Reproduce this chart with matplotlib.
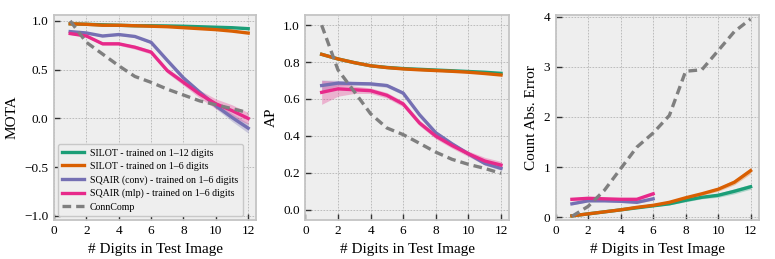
import numpy as np
import matplotlib.pyplot as plt

plt.rcParams['font.family'] = ['Liberation Serif', 'DejaVu Serif']
plt.rcParams['mathtext.fontset'] = 'stix'

x_all = np.arange(1, 13)
x_half = np.arange(1, 7)

labels = ['SILOT - trained on 1\u201312 digits',
          'SILOT - trained on 1\u20136 digits',
          'SQAIR (conv) - trained on 1\u20136 digits',
          'SQAIR (mlp) - trained on 1\u20136 digits',
          'ConnComp']
colors = ['#1b9e77', '#d95f02', '#7570b3', '#e7298a', '#7f7f7f']

# MOTA
mota_silot12 = [0.97, 0.965, 0.96, 0.955, 0.95, 0.95, 0.948, 0.945, 0.94, 0.935, 0.93, 0.92]
mota_silot6 = [0.97, 0.965, 0.955, 0.955, 0.95, 0.945, 0.94, 0.93, 0.92, 0.91, 0.895, 0.875]
mota_conv = [0.89, 0.876, 0.845, 0.86, 0.84, 0.78, 0.595, 0.415, 0.27, 0.13, 0.01, -0.10]
mota_mlp = [0.87, 0.845, 0.765, 0.765, 0.73, 0.68, 0.49, 0.37, 0.25, 0.15, 0.08, 0.0]
mota_cc = [1.0, 0.78, 0.66, 0.54, 0.43, 0.37, 0.30, 0.24, 0.18, 0.14, 0.10, 0.06]
mota_conv_sd = [0.01, 0.01, 0.01, 0.01, 0.01, 0.015, 0.02, 0.02, 0.02, 0.03, 0.04, 0.05]
mota_mlp_sd = [0.01, 0.01, 0.015, 0.015, 0.02, 0.02, 0.025, 0.03, 0.04, 0.05, 0.06, 0.06]

# AP
ap_silot12 = [0.842, 0.817, 0.797, 0.78, 0.771, 0.765, 0.761, 0.757, 0.753, 0.749, 0.745, 0.739]
ap_silot6 = [0.842, 0.817, 0.797, 0.78, 0.77, 0.763, 0.758, 0.754, 0.75, 0.745, 0.738, 0.73]
ap_conv = [0.673, 0.686, 0.684, 0.682, 0.673, 0.632, 0.515, 0.417, 0.357, 0.303, 0.251, 0.224]
ap_mlp = [0.636, 0.655, 0.65, 0.645, 0.62, 0.573, 0.47, 0.399, 0.348, 0.303, 0.264, 0.242]
ap_cc = [1.0, 0.758, 0.64, 0.52, 0.443, 0.407, 0.36, 0.312, 0.273, 0.246, 0.224, 0.197]
ap_conv_sd = [0.03, 0.015, 0.01, 0.01, 0.01, 0.01, 0.01, 0.01, 0.01, 0.01, 0.01, 0.01]
ap_mlp_sd = [0.065, 0.04, 0.02, 0.015, 0.015, 0.015, 0.015, 0.015, 0.015, 0.015, 0.02, 0.02]

# Count absolute error
cnt_silot12 = [0.03, 0.07, 0.11, 0.15, 0.19, 0.23, 0.27, 0.34, 0.40, 0.44, 0.52, 0.61]
cnt_silot6 = [0.03, 0.07, 0.11, 0.15, 0.20, 0.24, 0.30, 0.39, 0.47, 0.56, 0.70, 0.93]
cnt_conv = [0.27, 0.33, 0.33, 0.32, 0.30, 0.37]
cnt_mlp = [0.36, 0.38, 0.37, 0.36, 0.36, 0.47]
cnt_cc = [0.02, 0.22, 0.54, 0.97, 1.40, 1.68, 2.03, 2.91, 2.94, 3.32, 3.70, 3.95]
cnt_silot12_sd = [0.01, 0.01, 0.01, 0.01, 0.01, 0.015, 0.02, 0.03, 0.03, 0.04, 0.05, 0.05]
cnt_silot6_sd = [0.01, 0.01, 0.01, 0.01, 0.01, 0.015, 0.02, 0.02, 0.03, 0.04, 0.05, 0.06]
cnt_conv_sd = [0.02, 0.02, 0.02, 0.02, 0.02, 0.03]
cnt_mlp_sd = [0.03, 0.03, 0.02, 0.02, 0.02, 0.03]

TICK_FS = 9.5
LABEL_FS = 11
CC_DASH = (0, (2.6, 1.5))


def style_axis(ax):
    ax.set_facecolor('#eeeeee')
    ax.grid(True, color='#b4b4b4', linestyle=(0, (2, 1.6)), linewidth=0.6)
    ax.set_axisbelow(True)
    for s in ax.spines.values():
        s.set_color('#c4c4c4')
        s.set_linewidth(1.3)
    ax.tick_params(direction='in', length=4, width=1, color='#333333',
                   labelsize=TICK_FS, pad=4)
    ax.set_xticks([0, 2, 4, 6, 8, 10, 12])
    ax.set_xlim(0, 12.5)
    ax.set_xlabel('# Digits in Test Image', fontsize=LABEL_FS)


def draw(ax, x, y, sd, c, lab, ls='-'):
    y = np.array(y)
    ax.plot(x, y, color=c, lw=2.4, ls=ls, label=lab)
    if sd is not None:
        sd = np.array(sd)
        ax.fill_between(x, y - sd, y + sd, color=c, alpha=0.3, lw=0)


fig = plt.figure(figsize=(7.75, 2.59), dpi=100)
ax1 = fig.add_axes([0.0697, 0.151, 0.261, 0.791])
ax2 = fig.add_axes([0.394, 0.151, 0.263, 0.791])
ax3 = fig.add_axes([0.717, 0.151, 0.262, 0.791])

draw(ax1, x_all, mota_silot12, None, colors[0], labels[0])
draw(ax1, x_all, mota_silot6, None, colors[1], labels[1])
draw(ax1, x_all, mota_conv, mota_conv_sd, colors[2], labels[2])
draw(ax1, x_all, mota_mlp, mota_mlp_sd, colors[3], labels[3])
draw(ax1, x_all, mota_cc, None, colors[4], labels[4], ls=CC_DASH)
style_axis(ax1)
ax1.set_ylim(-1.04, 1.06)
ax1.set_yticks([-1.0, -0.5, 0.0, 0.5, 1.0])
ax1.set_ylabel('MOTA', fontsize=LABEL_FS)
leg = ax1.legend(loc='lower left', fontsize=7.1, frameon=True, fancybox=True,
                 facecolor='#eeeeee', edgecolor='#c8c8c8', framealpha=1,
                 borderpad=0.45, labelspacing=0.42, handlelength=2.2,
                 handletextpad=0.6, borderaxespad=0.4)

draw(ax2, x_all, ap_silot12, None, colors[0], labels[0])
draw(ax2, x_all, ap_silot6, None, colors[1], labels[1])
draw(ax2, x_all, ap_conv, ap_conv_sd, colors[2], labels[2])
draw(ax2, x_all, ap_mlp, ap_mlp_sd, colors[3], labels[3])
draw(ax2, x_all, ap_cc, None, colors[4], labels[4], ls=CC_DASH)
style_axis(ax2)
ax2.set_ylim(-0.055, 1.055)
ax2.set_yticks([0.0, 0.2, 0.4, 0.6, 0.8, 1.0])
ax2.set_ylabel('AP', fontsize=LABEL_FS)

draw(ax3, x_all, cnt_silot12, cnt_silot12_sd, colors[0], labels[0])
draw(ax3, x_all, cnt_silot6, cnt_silot6_sd, colors[1], labels[1])
draw(ax3, x_half, cnt_conv, cnt_conv_sd, colors[2], labels[2])
draw(ax3, x_half, cnt_mlp, cnt_mlp_sd, colors[3], labels[3])
draw(ax3, x_all, cnt_cc, None, colors[4], labels[4], ls=CC_DASH)
style_axis(ax3)
ax3.set_ylim(-0.05, 4.03)
ax3.set_yticks([0, 1, 2, 3, 4])
ax3.set_ylabel('Count Abs. Error', fontsize=LABEL_FS)

fig.savefig('out.png', dpi=100)
